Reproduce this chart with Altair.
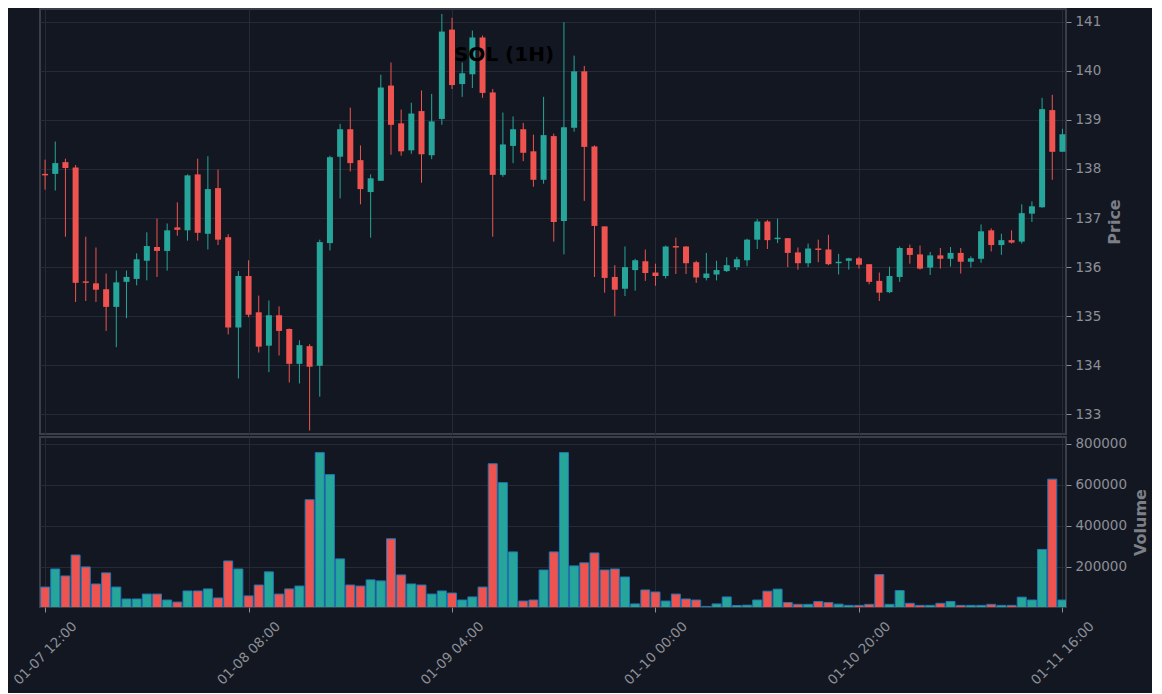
import altair as alt
import pandas as pd

opens = [137.90, 137.90, 138.14, 138.03, 135.71, 135.67, 135.55, 135.19, 135.70, 135.76,
         136.13, 136.41, 136.33, 136.81, 136.75, 137.89, 136.68, 137.61, 136.61, 134.77,
         135.82, 135.08, 134.40, 135.02, 134.74, 134.03, 134.39, 133.99, 136.49, 138.25,
         138.81, 138.18, 137.53, 137.76, 139.70, 138.93, 138.38, 139.18, 138.28, 139.02,
         140.84, 139.73, 139.93, 140.68, 139.56, 137.88, 138.47, 138.81, 138.36, 137.78,
         138.67, 136.94, 138.84, 139.99, 138.46, 136.83, 135.80, 135.56, 135.94, 136.12,
         135.89, 135.82, 136.43, 136.42, 136.10, 135.78, 135.85, 135.92, 136.00, 136.14,
         136.56, 136.93, 136.57, 136.59, 136.30, 136.08, 136.38, 136.36, 136.08, 136.13,
         136.18, 136.06, 135.72, 135.49, 135.80, 136.39, 136.26, 135.99, 136.24, 136.17,
         136.29, 136.11, 136.17, 136.75, 136.45, 136.55, 136.52, 137.09, 137.22, 139.20,
         138.35]
highs = [138.19, 138.56, 138.21, 138.08, 136.62, 136.40, 135.87, 135.93, 135.93, 136.28,
         136.71, 136.99, 136.89, 137.32, 137.89, 138.21, 138.26, 137.99, 136.67, 135.92,
         136.14, 135.42, 135.32, 135.20, 134.75, 134.51, 134.43, 136.56, 138.27, 138.92,
         139.25, 138.48, 137.89, 139.92, 140.17, 139.21, 139.35, 139.60, 139.53, 141.16,
         141.08, 140.17, 140.82, 140.72, 139.63, 139.15, 139.07, 138.94, 138.70, 139.47,
         138.72, 140.99, 140.31, 140.10, 138.48, 136.83, 136.04, 136.42, 136.17, 136.36,
         136.07, 136.44, 136.60, 136.43, 136.13, 136.29, 136.13, 136.20, 136.21, 136.58,
         136.98, 136.96, 136.99, 136.59, 136.40, 136.48, 136.56, 136.66, 136.27, 136.19,
         136.21, 136.06, 135.89, 136.01, 136.42, 136.46, 136.44, 136.31, 136.39, 136.41,
         136.39, 136.22, 136.87, 136.79, 136.68, 136.75, 137.28, 137.34, 139.45, 139.51,
         138.82]
lows = [137.58, 137.56, 136.62, 135.29, 135.31, 135.29, 134.70, 134.37, 134.96, 135.63,
        135.73, 135.80, 135.93, 136.64, 136.54, 136.54, 136.36, 136.45, 134.63, 133.73,
        134.98, 134.26, 133.86, 134.20, 133.65, 133.63, 132.67, 133.36, 136.34, 137.40,
        137.95, 137.28, 136.60, 137.76, 138.29, 138.27, 138.31, 137.72, 138.20, 138.90,
        139.63, 139.47, 139.65, 139.45, 136.62, 137.84, 138.12, 138.16, 137.64, 137.70,
        136.52, 136.26, 138.76, 137.35, 135.80, 135.48, 135.00, 135.41, 135.52, 135.72,
        135.62, 135.77, 135.86, 135.86, 135.68, 135.73, 135.73, 135.90, 135.94, 136.02,
        136.37, 136.37, 136.49, 136.00, 135.95, 136.00, 136.10, 136.04, 135.85, 135.95,
        135.97, 135.65, 135.31, 135.47, 135.70, 136.07, 135.95, 135.84, 135.97, 136.01,
        135.87, 135.99, 136.09, 136.32, 136.25, 136.48, 136.48, 136.92, 137.21, 137.78,
        138.35]
closes = [137.87, 138.12, 138.02, 135.68, 135.68, 135.54, 135.19, 135.69, 135.80, 136.16,
          136.43, 136.33, 136.75, 136.76, 137.87, 136.70, 137.59, 136.56, 134.77, 135.82,
          135.03, 134.38, 135.02, 134.70, 134.03, 134.41, 133.97, 136.51, 138.24, 138.81,
          138.12, 137.59, 137.81, 139.66, 138.90, 138.36, 139.13, 138.30, 138.97, 140.80,
          139.71, 139.95, 140.68, 139.55, 137.88, 138.50, 138.81, 138.33, 137.78, 138.69,
          136.92, 138.85, 139.99, 138.45, 136.84, 135.78, 135.54, 136.00, 136.14, 135.88,
          135.82, 136.42, 136.40, 136.08, 135.79, 135.87, 135.94, 136.04, 136.16, 136.56,
          136.93, 136.55, 136.60, 136.29, 136.08, 136.38, 136.35, 136.06, 136.11, 136.18,
          136.05, 135.70, 135.48, 135.82, 136.39, 136.25, 135.97, 136.24, 136.17, 136.29,
          136.11, 136.18, 136.73, 136.45, 136.55, 136.50, 137.10, 137.24, 139.22, 138.35,
          138.71]
volumes = [102000, 190000, 156000, 258000, 200000, 117000, 171000, 102000, 44000, 44000,
           68000, 68000, 39000, 29000, 83000, 83000, 93000, 49000, 229000, 190000,
           59000, 112000, 176000, 68000, 93000, 107000, 527000, 756000, 649000, 239000,
           112000, 107000, 137000, 132000, 337000, 161000, 117000, 112000, 68000, 83000,
           73000, 39000, 54000, 102000, 702000, 610000, 273000, 34000, 39000, 185000,
           273000, 756000, 205000, 220000, 268000, 185000, 190000, 151000, 20000, 88000,
           78000, 34000, 68000, 44000, 39000, 8000, 20000, 54000, 12000, 14000,
           39000, 82000, 92000, 27000, 18000, 18000, 32000, 27000, 19000, 13000,
           13000, 18000, 163000, 18000, 85000, 23000, 13000, 13000, 23000, 32000,
           13000, 13000, 13000, 18000, 13000, 13000, 53000, 39000, 285000, 627000,
           39000]
tick_idx = [0, 20, 40, 60, 80, 100]
tick_labels = ["01-07 12:00", "01-08 08:00", "01-09 04:00", "01-10 00:00", "01-10 20:00", "01-11 16:00"]
price_ticks = [133, 134, 135, 136, 137, 138, 139, 140, 141]
volume_ticks = [200000, 400000, 600000, 800000]
title_text = ["SOL (1H)"]

df = pd.DataFrame({
    "i": list(range(len(opens))),
    "open": opens, "high": highs, "low": lows, "close": closes, "volume": volumes,
})
df["dir"] = ["up" if c >= o else "down" for o, c in zip(opens, closes)]

BG = "#131722"
UP = "#26a69a"
DOWN = "#ef5350"
GRID = "#262a34"
FRAME = "#3a3e48"
LABEL = "#8c8f96"
TITLEC = "#7c7f86"
FONT = "DejaVu Sans"

color = alt.Color("dir:N", scale=alt.Scale(domain=["up", "down"], range=[UP, DOWN]), legend=None)
xscale = alt.Scale(domain=[-0.5, 100.35], nice=False, zero=False, padding=0)
label_expr = "[" + ",".join("'%s'" % t for t in tick_labels) + "][round(datum.value / 20)]"

x_top = alt.X("i:Q", scale=xscale,
              axis=alt.Axis(values=tick_idx, labels=False, ticks=False, domain=False,
                            grid=True, title=None))
y_price = alt.Y("low:Q", scale=alt.Scale(domain=[132.6, 141.26], nice=False, zero=False, padding=0),
                axis=alt.Axis(orient="right", values=price_ticks, title="Price", grid=True,
                              titleAngle=270, titlePadding=22, tickSize=5, labelPadding=4))

base = alt.Chart(df)
wick = base.mark_rule(strokeWidth=1).encode(x=x_top, y=y_price, y2="high:Q", color=color)
body = base.mark_bar(size=6).encode(x=x_top, y="open:Q", y2="close:Q", color=color)
title = alt.Chart(pd.DataFrame({"t": title_text})).mark_text(
    font=FONT, fontSize=20, fontWeight="bold", color="black", align="center", baseline="middle"
).encode(text="t:N", x=alt.value(464), y=alt.value(46))

top = alt.layer(wick, body, title).properties(width=1026, height=425)

x_bot = alt.X("i:Q", scale=xscale,
              axis=alt.Axis(values=tick_idx, labelExpr=label_expr, labelAngle=-45,
                            labelAlign="center", labelBaseline="middle", labelPadding=41,
                            labelFlush=False, labelOverlap=False, grid=True, domain=False,
                            ticks=True, tickSize=5, title=None))
y_vol = alt.Y("volume:Q", scale=alt.Scale(domain=[5000, 832000], nice=False, zero=False, padding=0),
              axis=alt.Axis(orient="right", values=volume_ticks, format="d", title="Volume",
                            grid=True, titleAngle=270, titlePadding=22, tickSize=5, labelPadding=4))
vol = alt.Chart(df).mark_bar(size=9, stroke="#1f77b4", strokeWidth=1, clip=True).encode(
    x=x_bot, y=y_vol, color=color)
bottom = vol.properties(width=1026, height=170)

chart = alt.vconcat(top, bottom, spacing=0).properties(
    background=BG,
    padding={"left": 1, "top": 0, "right": 2, "bottom": 5},
).configure_view(
    stroke=FRAME, strokeWidth=2
).configure_axis(
    gridColor=GRID, gridWidth=1, labelColor=LABEL, labelFont=FONT, labelFontSize=13.5,
    titleFont=FONT, titleColor=TITLEC, titleFontSize=16, titleFontWeight="bold",
    tickColor=LABEL, tickWidth=1, domain=False
)

chart.save("out.html", embed_options={"renderer": "svg", "actions": False})
